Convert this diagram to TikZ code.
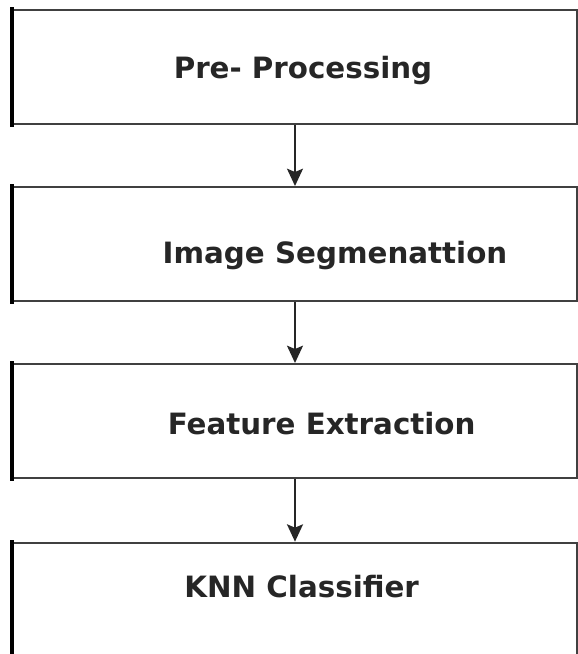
\documentclass[tikz,border=0pt]{standalone}
\usepackage{fontspec}
\setsansfont{DejaVu Sans}
\usetikzlibrary{arrows.meta,positioning}

\begin{document}
\begin{tikzpicture}[
  x=0.75pt, y=-0.75pt,
  stagebox/.style={draw=black!75, line width=1.5pt, fill=white,
    minimum width=423pt, minimum height=85.5pt, inner sep=0pt},
  stagelabel/.style={font=\sffamily\bfseries\fontsize{22}{26}\selectfont, text=black!85,
    inner sep=0pt},
  arr/.style={-{Stealth[length=13pt, width=12pt, inset=2.5pt]}, line width=1.4pt, black!85},
  node distance=45.75pt,
]
\useasboundingbox (0,0) rectangle (578,654);

% ===== stages =====
\node[stagebox] (pre) at (295,67) {};
\node[stagebox, below=of pre] (seg) {};
\node[stagebox, below=of seg] (feat) {};
\node[stagebox, below=47pt of feat] (knn) {};

% thick left edges
\foreach \b in {pre,seg,feat,knn}
  \draw[line width=2.6pt, line cap=rect] (\b.north west) -- (\b.south west);

% ===== labels =====
\node[stagelabel] (preText) at ([xshift=6pt, yshift=-3pt]pre.center) {Pre- Processing};
\node[stagelabel] (segText) at ([xshift=30pt, yshift=-9pt]seg.center) {Image Segmenattion};
\node[stagelabel] (featText) at ([xshift=20pt, yshift=-2pt]feat.center) {Feature Extraction};
\node[stagelabel] (knnText) at ([xshift=5pt, yshift=10pt]knn.center) {KNN Classifier};

% ===== arrows =====
\draw[arr] (pre) -- (seg);
\draw[arr] (seg) -- (feat);
\draw[arr] (feat) -- (knn);

\end{tikzpicture}
\end{document}
